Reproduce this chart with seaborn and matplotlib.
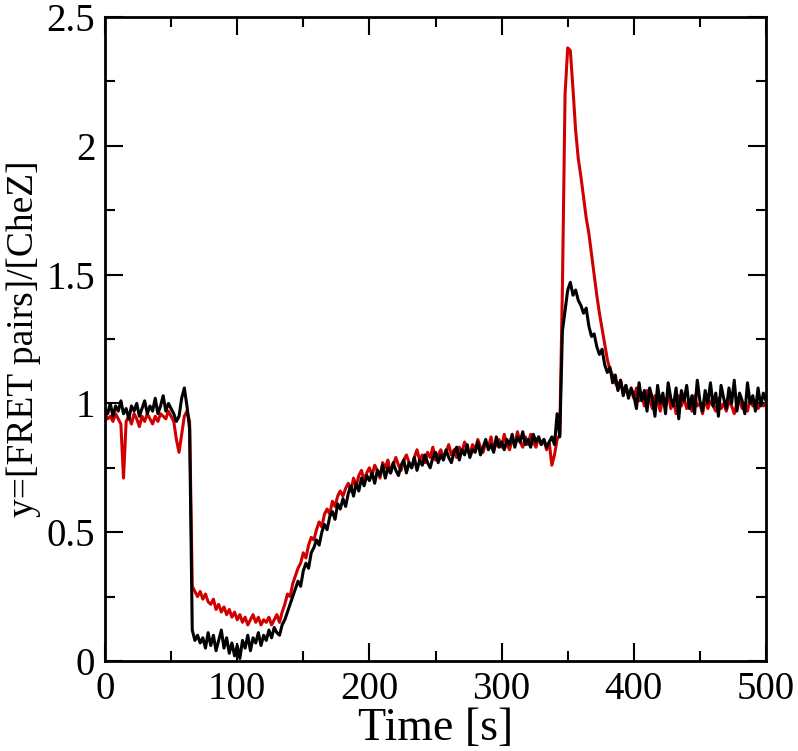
import numpy as np
import matplotlib
matplotlib.use('Agg')
import matplotlib.pyplot as plt
import seaborn as sns
from matplotlib.ticker import MultipleLocator, FuncFormatter

# Zeitachse (alle 2 s)
zeit = np.arange(0, 501, 2)

# rote Kurve
rot = [
    0.96, 0.94, 0.95, 0.93, 0.96, 0.94, 0.92, 0.71, 0.93, 0.95,   # 0-18
    0.92, 0.96, 0.94, 0.91, 0.95, 0.93, 0.96, 0.94, 0.92, 0.95,   # 20-38
    0.93, 0.96, 0.95, 0.94, 0.97, 0.95, 0.93, 0.86, 0.81, 0.88,   # 40-58
    0.95, 0.97, 0.93, 0.29, 0.27, 0.25, 0.27, 0.24, 0.26, 0.23,   # 60-78
    0.22, 0.24, 0.20, 0.22, 0.19, 0.21, 0.18, 0.20, 0.17, 0.19,   # 80-98
    0.16, 0.18, 0.15, 0.17, 0.14, 0.16, 0.18, 0.15, 0.17, 0.14,   # 100-118
    0.16, 0.15, 0.17, 0.14, 0.16, 0.18, 0.15, 0.19, 0.22, 0.26,   # 120-138
    0.25, 0.30, 0.33, 0.36, 0.38, 0.42, 0.40, 0.45, 0.48, 0.47,   # 140-158
    0.51, 0.54, 0.52, 0.57, 0.59, 0.57, 0.62, 0.60, 0.64, 0.66,   # 160-178
    0.64, 0.67, 0.69, 0.66, 0.71, 0.68, 0.72, 0.74, 0.70, 0.73,   # 180-198
    0.75, 0.72, 0.76, 0.74, 0.71, 0.77, 0.75, 0.78, 0.73, 0.76,   # 200-218
    0.79, 0.76, 0.74, 0.78, 0.80, 0.77, 0.75, 0.79, 0.82, 0.78,   # 220-238
    0.80, 0.77, 0.81, 0.79, 0.83, 0.78, 0.80, 0.82, 0.79, 0.81,   # 240-258
    0.84, 0.80, 0.82, 0.79, 0.83, 0.81, 0.85, 0.82, 0.80, 0.84,   # 260-278
    0.82, 0.86, 0.83, 0.81, 0.85, 0.83, 0.87, 0.82, 0.84, 0.86,   # 280-298
    0.83, 0.88, 0.84, 0.82, 0.86, 0.84, 0.89, 0.85, 0.83, 0.87,   # 300-318
    0.84, 0.88, 0.85, 0.83, 0.87, 0.84, 0.86, 0.82, 0.85, 0.76,   # 320-338
    0.80, 0.86, 0.88, 1.45, 2.20, 2.38, 2.37, 2.22, 2.06, 1.95,   # 340-358
    1.88, 1.80, 1.72, 1.66, 1.58, 1.50, 1.42, 1.35, 1.29, 1.23,   # 360-378
    1.17, 1.13, 1.11, 1.08, 1.06, 1.09, 1.04, 1.07, 1.03, 1.05,   # 380-398
    1.02, 1.06, 1.01, 1.04, 0.99, 1.05, 1.02, 0.98, 1.03, 1.01,   # 400-418
    0.97, 1.02, 1.00, 1.04, 0.98, 1.01, 0.96, 1.03, 0.99, 1.02,   # 420-438
    0.98, 1.01, 0.97, 1.03, 0.99, 1.00, 0.96, 1.02, 0.98, 1.01,   # 440-458
    0.99, 0.97, 1.02, 0.98, 1.00, 0.97, 1.01, 0.99, 0.96, 1.00,   # 460-478
    1.01, 0.98, 1.00, 0.97, 1.02, 0.99, 1.01, 0.98, 1.00, 0.99,   # 480-498
    1.00,                                                         # 500
]

# schwarze Kurve
schwarz = [
    0.98, 0.96, 1.00, 0.95, 0.99, 0.97, 1.01, 0.96, 0.98, 0.94,   # 0-18
    0.99, 0.97, 1.00, 0.95, 0.98, 1.01, 0.96, 0.99, 0.97, 1.02,   # 20-38
    0.96, 0.99, 1.03, 0.97, 1.00, 0.98, 0.96, 0.93, 0.95, 1.02,   # 40-58
    1.06, 0.99, 0.90, 0.12, 0.08, 0.10, 0.07, 0.09, 0.05, 0.11,   # 60-78
    0.06, 0.10, 0.04, 0.08, 0.12, 0.05, 0.09, 0.03, 0.07, 0.02,   # 80-98
    0.06, 0.01, 0.08, 0.05, 0.10, 0.04, 0.09, 0.07, 0.11, 0.06,   # 100-118
    0.10, 0.08, 0.12, 0.09, 0.13, 0.11, 0.10, 0.14, 0.16, 0.19,   # 120-138
    0.22, 0.25, 0.28, 0.31, 0.29, 0.35, 0.38, 0.36, 0.42, 0.44,   # 140-158
    0.47, 0.45, 0.50, 0.53, 0.51, 0.56, 0.58, 0.55, 0.61, 0.59,   # 160-178
    0.63, 0.60, 0.65, 0.68, 0.64, 0.69, 0.66, 0.71, 0.68, 0.72,   # 180-198
    0.70, 0.73, 0.69, 0.74, 0.72, 0.76, 0.71, 0.75, 0.73, 0.77,   # 200-218
    0.74, 0.72, 0.76, 0.78, 0.73, 0.77, 0.75, 0.79, 0.74, 0.78,   # 220-238
    0.76, 0.80, 0.77, 0.75, 0.79, 0.81, 0.77, 0.80, 0.78, 0.82,   # 240-258
    0.79, 0.77, 0.81, 0.83, 0.78, 0.82, 0.80, 0.84, 0.79, 0.82,   # 260-278
    0.81, 0.85, 0.80, 0.83, 0.86, 0.82, 0.84, 0.81, 0.87, 0.83,   # 280-298
    0.85, 0.82, 0.86, 0.84, 0.88, 0.83, 0.87, 0.85, 0.89, 0.84,   # 300-318
    0.86, 0.83, 0.88, 0.85, 0.87, 0.84, 0.86, 0.83, 0.85, 0.87,   # 320-338
    0.84, 0.96, 0.87, 1.28, 1.36, 1.44, 1.47, 1.42, 1.44, 1.40,   # 340-358
    1.38, 1.35, 1.37, 1.30, 1.26, 1.27, 1.22, 1.19, 1.21, 1.15,   # 360-378
    1.12, 1.14, 1.08, 1.11, 1.05, 1.09, 1.03, 1.07, 1.02, 1.06,   # 380-398
    1.03, 0.98, 1.08, 1.01, 1.05, 0.97, 1.06, 1.02, 0.95, 1.07,   # 400-418
    1.00, 1.04, 0.96, 1.08, 1.02, 0.99, 1.06, 0.94, 1.05, 1.01,   # 420-438
    1.07, 0.98, 1.03, 0.96, 1.09, 1.01, 0.97, 1.05, 1.00, 1.08,   # 440-458
    0.99, 1.04, 0.95, 1.07, 1.02, 0.98, 1.06, 1.00, 1.09, 0.97,   # 460-478
    1.04, 1.01, 0.96, 1.08, 1.00, 1.03, 0.97, 1.06, 0.99, 1.04,   # 480-498
    1.01,                                                         # 500
]

sns.set_style('ticks')
plt.rcParams['font.family'] = ['Liberation Serif', 'DejaVu Serif']
plt.rcParams['text.color'] = 'black'
plt.rcParams['axes.labelcolor'] = 'black'

fig = plt.figure(figsize=(7.98, 7.51), dpi=100)
ax = fig.add_axes([105 / 798, 1 - 661 / 751, (766 - 105) / 798, (661 - 17) / 751])

sns.lineplot(x=zeit, y=rot, color='#d10000', linewidth=2.2, estimator=None, ax=ax)
sns.lineplot(x=zeit, y=schwarz, color='black', linewidth=2.2, estimator=None, ax=ax)

ax.set_xlim(0, 500)
ax.set_ylim(0, 2.5)
ax.xaxis.set_major_locator(MultipleLocator(100))
ax.xaxis.set_minor_locator(MultipleLocator(50))
ax.yaxis.set_major_locator(MultipleLocator(0.5))
ax.yaxis.set_minor_locator(MultipleLocator(0.25))
ax.yaxis.set_major_formatter(FuncFormatter(lambda v, p: f'{v:g}'))

ax.tick_params(which='both', direction='in', top=True, right=True, width=1.5,
               colors='black', labelcolor='black')
ax.tick_params(which='major', length=13, labelsize=28, pad=7)
ax.tick_params(which='minor', length=7)
for s in ax.spines.values():
    s.set_linewidth(2)
    s.set_color('black')

ax.set_xlabel('Time [s]', fontsize=33, labelpad=0)
ax.set_ylabel('y=[FRET pairs]/[CheZ]', fontsize=27)
ax.yaxis.set_label_coords(-0.097, 0.5)

fig.savefig('out.png', dpi=100)
